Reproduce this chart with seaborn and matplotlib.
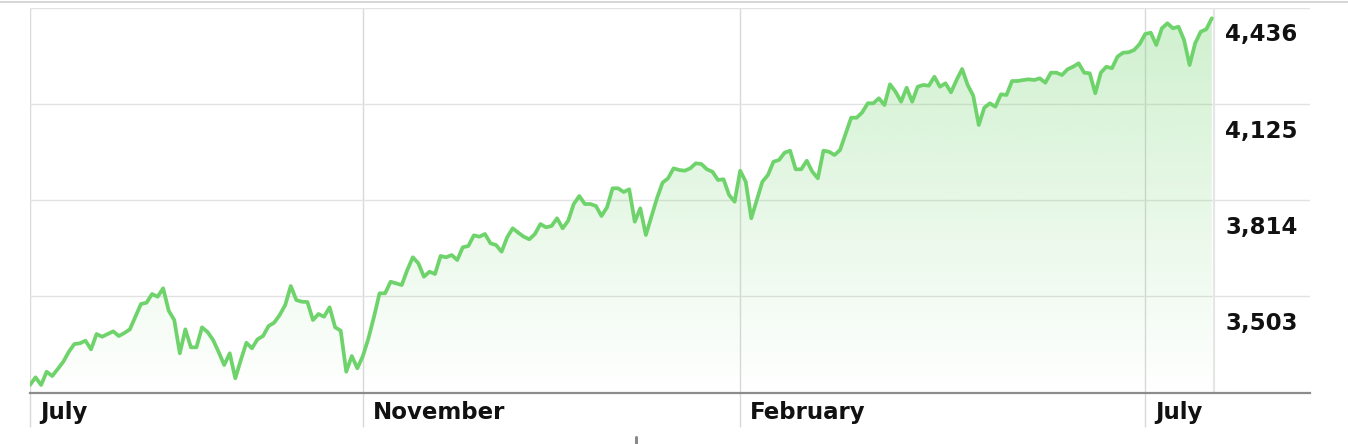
import numpy as np
import matplotlib
matplotlib.use("Agg")
import matplotlib.pyplot as plt
import matplotlib.transforms as mtransforms
from matplotlib.lines import Line2D
from matplotlib.colors import to_rgb
import seaborn as sns

# closing prices, evenly spaced trading days
prices = [
    3214.7, 3239.6, 3214.7, 3257.8, 3243.8, 3266.5, 3290.1, 3322.5, 3347.5, 3349.8,
    3358.2, 3330.3, 3379.9, 3371.1, 3379.9, 3388.6, 3373.4, 3383.1, 3395.1, 3435.9,
    3477.1, 3481.3, 3509.5, 3500.7, 3527.9, 3455.4, 3425.2, 3317.4, 3395.1, 3336.8,
    3336.8, 3401.6, 3386.4, 3360.5, 3321.6, 3279.5, 3317.4, 3236.4, 3295.7, 3351.7,
    3333.6, 3362.7, 3373.4, 3405.8, 3416.5, 3441.4, 3473.8, 3535.4, 3490.0, 3484.5,
    3483.6, 3425.2, 3444.7, 3435.9, 3466.4, 3401.6, 3390.6, 3257.8, 3308.6, 3268.8,
    3308.6, 3366.0, 3435.9, 3511.7, 3511.7, 3549.3, 3544.1, 3538.6, 3587.2, 3628.4,
    3608.9, 3565.5, 3581.7, 3574.3, 3632.6, 3628.4, 3635.8, 3619.6, 3660.8, 3665.0,
    3699.6, 3695.1, 3703.9, 3673.7, 3668.2, 3646.5, 3693.2, 3722.3, 3708.1, 3695.1,
    3686.7, 3703.9, 3736.2, 3725.6, 3729.8, 3754.7, 3722.3, 3746.9, 3801.0, 3827.0,
    3801.0, 3801.0, 3794.6, 3762.2, 3790.3, 3851.9, 3851.9, 3839.9, 3848.7, 3743.7,
    3787.1, 3700.6, 3759.9, 3819.5, 3870.1, 3884.3, 3916.7, 3911.2, 3908.9, 3916.7,
    3932.9, 3930.6, 3913.5, 3905.7, 3878.8, 3881.1, 3830.2, 3808.5, 3908.9, 3873.3,
    3754.7, 3814.0, 3873.3, 3895.0, 3938.1, 3943.6, 3967.2, 3973.7, 3913.5, 3913.5,
    3941.3, 3905.7, 3884.3, 3973.7, 3970.5, 3959.8, 3976.0, 4027.8, 4080.6, 4080.6,
    4098.1, 4127.3, 4127.3, 4143.5, 4121.8, 4188.8, 4164.8, 4132.5, 4177.8, 4132.5,
    4181.0, 4186.6, 4184.3, 4213.4, 4181.0, 4192.1, 4162.9, 4202.7, 4238.4, 4186.6,
    4151.9, 4057.0, 4113.0, 4127.3, 4116.3, 4156.4, 4154.2, 4199.5, 4199.5, 4202.7,
    4205.0, 4202.7, 4208.3, 4194.0, 4226.4, 4226.4, 4218.9, 4237.4, 4245.8, 4256.8,
    4226.4, 4224.5, 4159.7, 4226.4, 4245.8, 4240.7, 4278.2, 4291.2, 4292.5, 4299.9,
    4319.4, 4351.8, 4356.0, 4316.1, 4370.2, 4386.4, 4370.2, 4375.4, 4332.3, 4251.3,
    4321.6, 4359.2, 4367.0, 4402.6,
]
month_labels = ["July", "November", "February", "July"]
month_index = [0, 60, 128, 201]
y_levels = [4436, 4125, 3814, 3503]
y_labels = ["4,436", "4,125", "3,814", "3,503"]

line_color = "#6fd36c"
text_color = "#111111"
grid_color = "#e2e2e2"

sns.set_style("white")
plt.rcParams["font.family"] = ["DejaVu Sans"]

fig = plt.figure(figsize=(13.48, 4.44), dpi=100)
ax = fig.add_axes([30 / 1348, 51 / 444, 1280 / 1348, 385 / 444])

x = np.arange(len(prices))
y_bottom = 3188.8
y_top = 4436
x_right = 230.7

# gradient area under the line
poly = ax.fill_between(x, prices, y_bottom, color="none", lw=0)
grad = np.zeros((256, 1, 4))
grad[..., :3] = to_rgb(line_color)
grad[..., 3] = np.linspace(0.34, 0.0, 256).reshape(-1, 1)
im = ax.imshow(grad, extent=[0, len(prices) - 1, y_bottom, y_top],
               aspect="auto", origin="upper", zorder=1)
im.set_clip_path(poly.get_paths()[0], transform=ax.transData)

sns.lineplot(x=x, y=prices, ax=ax, color=line_color, lw=2.7, zorder=3)

ax.set_xlim(0, x_right)
ax.set_ylim(y_bottom, y_top)

# horizontal grid
ax.set_yticks(y_levels)
ax.set_yticklabels([])
ax.tick_params(axis="y", length=0)
ax.grid(axis="y", color=grid_color, lw=1.0)
for lvl, lab in zip(y_levels, y_labels):
    off = mtransforms.ScaledTranslation(0, -27 / 100, fig.dpi_scale_trans)
    tr = mtransforms.blended_transform_factory(ax.transAxes, ax.transData) + off
    ax.text(0.9336, lvl, lab, transform=tr, ha="left", va="center",
            fontsize=16.5, fontweight="bold", color=text_color)

# month ticks run below the axis like the gridlines
ax.set_xticks(month_index)
ax.set_xticklabels(month_labels, fontsize=16.5, fontweight="bold", color=text_color, ha="left")
ax.grid(axis="x", color="#d9d9d9", lw=1.0)
ax.tick_params(axis="x", bottom=True, direction="out", length=24.5, width=1.0,
               color="#d9d9d9", pad=-19)
shift = mtransforms.ScaledTranslation(10 / 100, 0, fig.dpi_scale_trans)
for lab in ax.get_xticklabels():
    lab.set_transform(lab.get_transform() + shift)

ax.axvline(len(prices) - 1 + 0.4, color="#e6e6e6", lw=1.6, zorder=2)

for side in ["top", "right", "left"]:
    ax.spines[side].set_visible(False)
ax.spines["bottom"].set_color("#8c8c8c")
ax.spines["bottom"].set_linewidth(1.6)

# thin rule along the top of the figure and the small mark at the bottom
fig.add_artist(Line2D([0, 1], [1 - 2 / 444, 1 - 2 / 444], color="#d0d0d0", lw=1.2))
fig.add_artist(Line2D([636 / 1348, 636 / 1348], [0, 7 / 444], color="#8a8a8a", lw=2.2))

fig.savefig("out.png", dpi=100)
